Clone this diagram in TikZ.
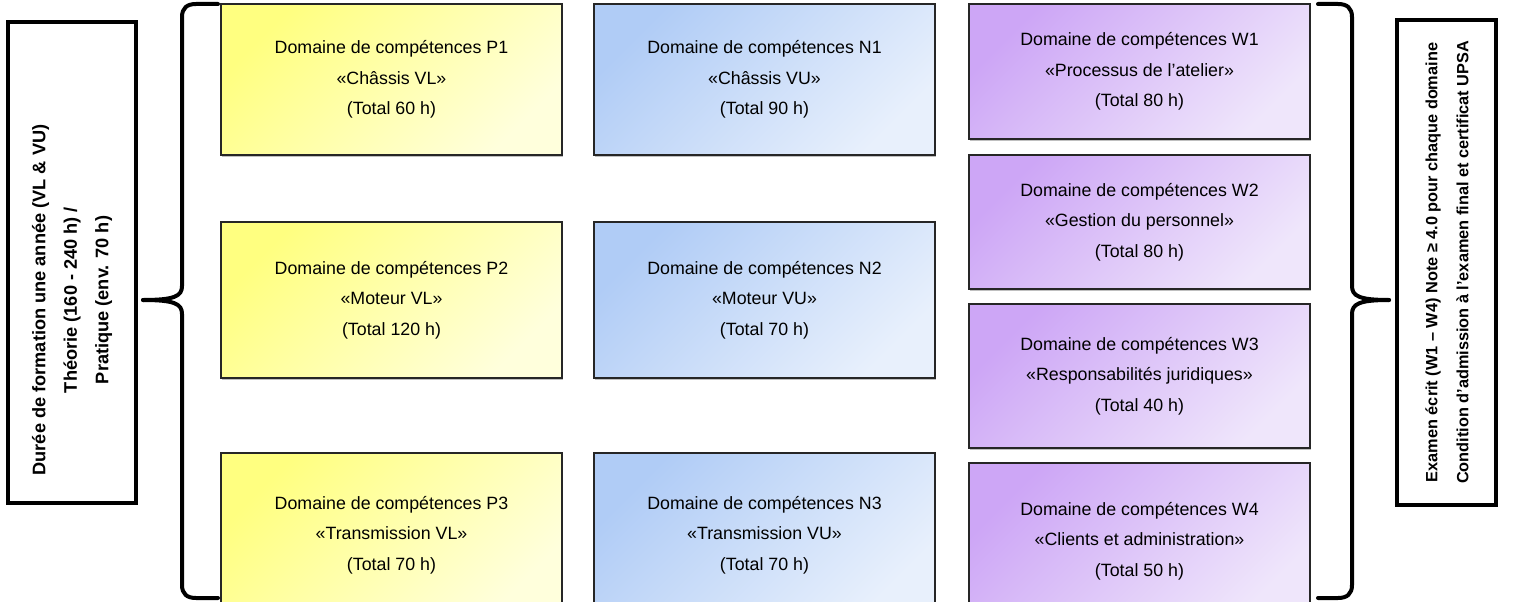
\documentclass[tikz,border=0pt]{standalone}
\usepackage{fontspec}
\setmainfont{Liberation Sans}
\usetikzlibrary{shadows}
\definecolor{yelA}{HTML}{FFFF80}
\definecolor{yelB}{HTML}{FFFFDC}
\definecolor{bluA}{HTML}{B0CCF6}
\definecolor{bluB}{HTML}{E8F0FC}
\definecolor{purA}{HTML}{CDA6F6}
\definecolor{purB}{HTML}{EFE6FB}
\begin{document}
\begin{tikzpicture}[x=1pt,y=-1pt,
  dom/.style={draw=black!85, line width=1.3pt, minimum width=341pt, align=center,
    font=\fontsize{17.8}{30.5}\selectfont, inner sep=0pt,
    drop shadow={shadow xshift=1.2pt, shadow yshift=-1.5pt, fill=black, opacity=0.25}},
  ybox/.style={dom, top color=yelA, bottom color=yelB, shading angle=45},
  bbox/.style={dom, top color=bluA, bottom color=bluB, shading angle=45},
  pbox/.style={dom, top color=purA, bottom color=purB, shading angle=45},
  sidebox/.style={draw=black, line width=3.5pt, rotate=90, inner sep=0pt},
  sidetext/.style={rotate=90, align=center, inner sep=0pt},
  brace/.style={line width=4pt, line cap=round, line join=round}
]
\useasboundingbox (0,0) rectangle (1518,602);
\clip (0,0) rectangle (1518,602);

% side boxes
\node[sidebox, minimum width=481pt, minimum height=128pt] (left) at (72,262.5) {};
\node[sidetext, font=\bfseries\fontsize{18.2}{31.5}\selectfont] (lefttext) at (72,300)
  {Durée de formation une année (VL \& VU)\\Théorie (160 - 240 h) /\\Pratique (env. 70 h)};
\node[sidebox, minimum width=485pt, minimum height=99pt] (right) at (1446.5,262.5) {};
\node[sidetext, font=\bfseries\fontsize{16.3}{31}\selectfont] (righttext) at (1447,262.5)
  {Examen écrit (W1 – W4) Note ≥ 4.0 pour chaque domaine\\Condition d’admission à l’examen final et certificat UPSA};

% yellow column
\node[ybox, minimum height=151pt] (P1) at (391.5,79.5) {Domaine de compétences P1\\«Châssis VL»\\(Total 60 h)};
\node[ybox, minimum height=156pt] (P2) at (391.5,300) {Domaine de compétences P2\\«Moteur VL»\\(Total 120 h)};
\node[ybox, minimum height=164pt] (P3) at (391.5,535) {Domaine de compétences P3\\«Transmission VL»\\(Total 70 h)};

% blue column
\node[bbox, minimum height=151pt] (N1) at (764.5,79.5) {Domaine de compétences N1\\«Châssis VU»\\(Total 90 h)};
\node[bbox, minimum height=156pt] (N2) at (764.5,300) {Domaine de compétences N2\\«Moteur VU»\\(Total 70 h)};
\node[bbox, minimum height=164pt] (N3) at (764.5,535) {Domaine de compétences N3\\«Transmission VU»\\(Total 70 h)};

% purple column
\node[pbox, minimum height=135pt] (W1) at (1139.5,71.5) {Domaine de compétences W1\\«Processus de l’atelier»\\(Total 80 h)};
\node[pbox, minimum height=134pt] (W2) at (1139.5,222) {Domaine de compétences W2\\«Gestion du personnel»\\(Total 80 h)};
\node[pbox, minimum height=144pt] (W3) at (1139.5,376) {Domaine de compétences W3\\«Responsabilités juridiques»\\(Total 40 h)};
\node[pbox, minimum height=156pt] (W4) at (1139.5,541) {Domaine de compétences W4\\«Clients et administration»\\(Total 50 h)};

% left brace
\coordinate (lbT) at (218,4);
\coordinate (lbB) at (218,598);
\coordinate (lbTip) at (143,300);
\draw[brace] (lbT) -- (196,4) .. controls (187,4) and (182,8) .. (182,17)
  -- (182,286) .. controls (182,296) and (175,300) .. (lbTip);
\draw[brace] (lbTip) .. controls (175,300) and (182,304) .. (182,314)
  -- (182,585) .. controls (182,594) and (187,598) .. (196,598) -- (lbB);

% right brace
\coordinate (rbT) at (1318,4);
\coordinate (rbB) at (1318,598);
\coordinate (rbTip) at (1389,300);
\draw[brace] (rbT) -- (1338,4) .. controls (1347,4) and (1352,8) .. (1352,17)
  -- (1352,286) .. controls (1352,296) and (1359,300) .. (rbTip);
\draw[brace] (rbTip) .. controls (1359,300) and (1352,304) .. (1352,314)
  -- (1352,585) .. controls (1352,594) and (1347,598) .. (1338,598) -- (rbB);
\end{tikzpicture}
\end{document}
